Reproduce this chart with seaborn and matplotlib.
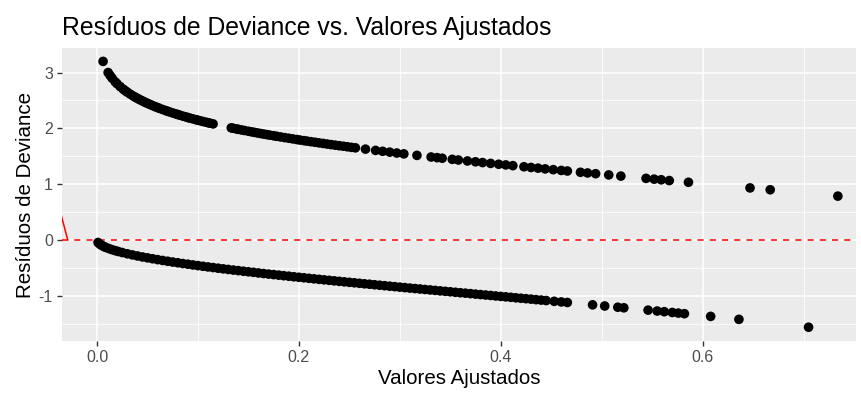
import matplotlib
matplotlib.use("Agg")
import matplotlib.pyplot as plt
import seaborn as sns
import pandas as pd
from matplotlib.ticker import FuncFormatter, FixedLocator

# --- data ---
upper_x = [0.006, 0.011, 0.013, 0.015, 0.018, 0.020, 0.023, 0.026, 0.030, 0.033,
           0.036, 0.040, 0.044, 0.048, 0.052, 0.056, 0.060, 0.065, 0.070, 0.075,
           0.080, 0.085, 0.090, 0.095, 0.100, 0.105, 0.110, 0.115,
           0.028, 0.038, 0.042, 0.046, 0.050, 0.054, 0.058, 0.062, 0.068, 0.072,
           0.078, 0.082, 0.088, 0.092, 0.098, 0.102, 0.108, 0.112,
           0.133, 0.138, 0.143, 0.150, 0.156, 0.162, 0.168, 0.175, 0.182, 0.190,
           0.198, 0.205, 0.212, 0.220, 0.228, 0.236, 0.244, 0.252,
           0.135, 0.140, 0.146, 0.153, 0.159, 0.165, 0.171, 0.178, 0.186, 0.194,
           0.201, 0.208, 0.216, 0.224, 0.232, 0.240, 0.248,
           0.256, 0.266, 0.276, 0.283, 0.290, 0.297, 0.304, 0.317, 0.331, 0.337,
           0.342, 0.352, 0.358, 0.367, 0.375, 0.382, 0.390, 0.398, 0.405, 0.412,
           0.423, 0.430, 0.437, 0.444, 0.452, 0.460, 0.466, 0.479, 0.486, 0.494,
           0.507, 0.519, 0.544, 0.552, 0.559, 0.567, 0.586, 0.647, 0.667, 0.734]
upper_y = [3.200, 3.000, 2.947, 2.898, 2.834, 2.797, 2.747, 2.702, 2.648, 2.612,
           2.578, 2.537, 2.500, 2.464, 2.432, 2.401, 2.372, 2.338, 2.306, 2.276,
           2.248, 2.220, 2.194, 2.170, 2.146, 2.123, 2.101, 2.080,
           2.674, 2.557, 2.518, 2.482, 2.448, 2.416, 2.386, 2.358, 2.319, 2.294,
           2.259, 2.237, 2.205, 2.184, 2.155, 2.137, 2.110, 2.093,
           2.009, 1.990, 1.972, 1.948, 1.928, 1.908, 1.889, 1.867, 1.846, 1.823,
           1.800, 1.780, 1.761, 1.740, 1.719, 1.699, 1.680, 1.660,
           2.001, 1.983, 1.962, 1.938, 1.918, 1.898, 1.879, 1.858, 1.834, 1.811,
           1.791, 1.772, 1.751, 1.730, 1.709, 1.689, 1.670,
           1.651, 1.628, 1.605, 1.589, 1.574, 1.558, 1.543, 1.516, 1.487, 1.475,
           1.465, 1.445, 1.433, 1.416, 1.401, 1.387, 1.372, 1.357, 1.345, 1.332,
           1.312, 1.299, 1.287, 1.274, 1.260, 1.246, 1.236, 1.213, 1.201, 1.188,
           1.166, 1.145, 1.104, 1.090, 1.079, 1.065, 1.034, 0.933, 0.900, 0.786]

lower_x = [0.001, 0.003, 0.005, 0.007, 0.009, 0.012, 0.015, 0.018, 0.021, 0.025,
           0.030, 0.035, 0.040, 0.045, 0.050, 0.055, 0.060, 0.065, 0.070, 0.075,
           0.080, 0.085, 0.090, 0.095, 0.100, 0.105, 0.110, 0.115, 0.120, 0.125,
           0.130, 0.135, 0.140, 0.145, 0.150, 0.155, 0.160, 0.165, 0.170, 0.175,
           0.180, 0.185, 0.190, 0.195, 0.200, 0.205, 0.210, 0.215, 0.220, 0.225,
           0.230, 0.235, 0.240, 0.245, 0.250, 0.255, 0.260, 0.265, 0.270, 0.275,
           0.280, 0.285, 0.290, 0.295, 0.300, 0.305, 0.310, 0.315, 0.320, 0.325,
           0.330, 0.335, 0.340, 0.345, 0.350, 0.355, 0.360, 0.365, 0.370, 0.375,
           0.380, 0.385, 0.390, 0.395, 0.400, 0.405, 0.410, 0.415, 0.420, 0.425,
           0.430, 0.435, 0.440, 0.445, 0.453, 0.460, 0.466,
           0.491, 0.503, 0.516, 0.522, 0.546, 0.555, 0.562, 0.570, 0.576, 0.582,
           0.608, 0.636, 0.705]
lower_y = [-0.045, -0.078, -0.100, -0.119, -0.135, -0.155, -0.174, -0.191, -0.206, -0.225,
           -0.247, -0.267, -0.286, -0.304, -0.320, -0.336, -0.352, -0.367, -0.381, -0.395,
           -0.408, -0.422, -0.434, -0.447, -0.459, -0.471, -0.483, -0.494, -0.506, -0.517,
           -0.528, -0.539, -0.549, -0.560, -0.570, -0.580, -0.591, -0.601, -0.611, -0.620,
           -0.630, -0.640, -0.649, -0.659, -0.668, -0.677, -0.687, -0.696, -0.705, -0.714,
           -0.723, -0.732, -0.741, -0.750, -0.759, -0.767, -0.776, -0.785, -0.793, -0.802,
           -0.811, -0.819, -0.828, -0.836, -0.845, -0.853, -0.862, -0.870, -0.878, -0.887,
           -0.895, -0.903, -0.912, -0.920, -0.928, -0.937, -0.945, -0.953, -0.961, -0.970,
           -0.978, -0.986, -0.994, -1.003, -1.011, -1.019, -1.027, -1.036, -1.044, -1.052,
           -1.060, -1.069, -1.077, -1.085, -1.099, -1.110, -1.120,
           -1.162, -1.183, -1.205, -1.215, -1.257, -1.273, -1.285, -1.299, -1.310, -1.321,
           -1.369, -1.422, -1.563]

smooth_x = [-0.0360, -0.0290]
smooth_y = [0.48, 0.00]

title = "Resíduos de Deviance vs. Valores Ajustados"
xlabel = "Valores Ajustados"
ylabel = "Resíduos de Deviance"
xticks = [0.0, 0.2, 0.4, 0.6]
yticks = [-1, 0, 1, 2, 3]

df = pd.DataFrame({
    "ajustado": upper_x + lower_x,
    "residuo": upper_y + lower_y,
})
smooth_df = pd.DataFrame({"x": smooth_x, "y": smooth_y})

# --- styling ---
sns.set_theme(style="darkgrid")
plt.rcParams["font.family"] = ["Liberation Sans", "DejaVu Sans"]

fig = plt.figure(figsize=(8.61, 3.96), dpi=100)
ax = fig.add_axes([62 / 861, 1 - 341 / 396, (856 - 62) / 861, (341 - 48) / 396])
ax.set_facecolor("#EBEBEB")

ax.set_xlim(-0.0347, 0.752)
ax.set_ylim(-1.81, 3.44)

ax.xaxis.set_major_locator(FixedLocator(xticks))
ax.yaxis.set_major_locator(FixedLocator(yticks))
ax.xaxis.set_minor_locator(FixedLocator([-0.1, 0.1, 0.3, 0.5, 0.7]))
ax.yaxis.set_minor_locator(FixedLocator([-1.5, -0.5, 0.5, 1.5, 2.5]))
ax.grid(which="major", color="white", linewidth=1.1)
ax.grid(which="minor", color="white", linewidth=0.55)
ax.set_axisbelow(True)
for s in ax.spines.values():
    s.set_visible(False)

ax.axhline(0, color="red", linestyle=(0, (4, 4)), linewidth=1.1, zorder=2)
sns.lineplot(data=smooth_df, x="x", y="y", ax=ax, color="red", linewidth=1.1,
             estimator=None, sort=False, zorder=2)
sns.scatterplot(data=df, x="ajustado", y="residuo", ax=ax, color="black",
                s=48, linewidth=0, edgecolor="none", zorder=3)

ax.xaxis.set_major_formatter(FuncFormatter(lambda v, p: f"{v:.1f}"))
ax.yaxis.set_major_formatter(FuncFormatter(lambda v, p: f"{int(round(v))}".replace("\u2212", "-")))
ax.tick_params(axis="both", which="major", length=3.5, width=1, color="#333333",
               labelsize=11.5, labelcolor="#4D4D4D", pad=3, bottom=True, left=True)
ax.tick_params(axis="both", which="minor", length=0)

ax.set_xlabel(xlabel, fontsize=14.8, color="black", labelpad=3)
ax.set_ylabel(ylabel, fontsize=14.8, color="black", labelpad=3)
ax.set_title(title, fontsize=17.8, color="black", loc="left", pad=9)

fig.savefig("out.png", dpi=100)
